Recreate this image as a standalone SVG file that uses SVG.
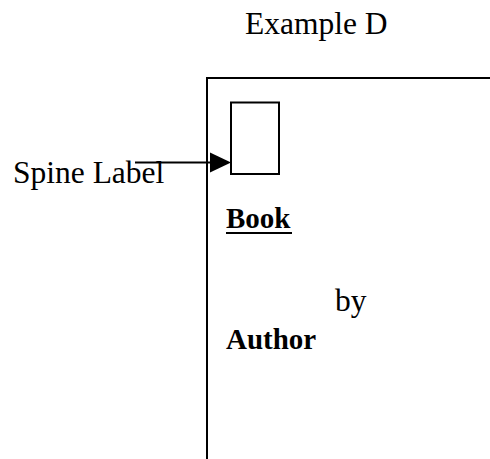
<svg xmlns="http://www.w3.org/2000/svg" width="490" height="459" viewBox="0 0 490 459">
  <style>
    .t { font-family: "Liberation Serif", "Times New Roman", serif; fill: #000; }
    .reg { font-size: 31.5px; }
    .bold { font-size: 29px; font-weight: bold; }
    .ln { stroke: #000; stroke-width: 2; fill: none; }
  </style>
  <defs>
    <marker id="arrow" markerWidth="10" markerHeight="10" refX="10" refY="5" orient="auto" markerUnits="userSpaceOnUse" viewBox="0 0 10 10">
      <path d="M0,0 L10,5 L0,10 Z" fill="#000"/>
    </marker>
  </defs>
  <rect width="490" height="459" fill="#fff"/>
  <text class="t reg" x="245" y="34">Example D</text>
  <!-- book cover outline, open at right and bottom -->
  <g id="cover">
    <path class="ln" d="M490,78 H207 V459"/>
  </g>
  <g id="spine-label-box">
    <rect class="ln" x="231" y="102.5" width="48" height="71.5"/>
  </g>
  <g id="spine-label-text">
    <text class="t reg" x="13" y="183">Spine Label</text>
  </g>
  <g id="connectors">
    <line class="ln" x1="135" y1="162.5" x2="211" y2="162.5"/>
    <path d="M210,152.5 L231,162.5 L210,172.5 Z" fill="#000"/>
  </g>
  <g id="title">
    <text class="t bold" x="226" y="228">Book</text>
    <line x1="226" y1="233" x2="292" y2="233" stroke="#000" stroke-width="2"/>
  </g>
  <g id="by">
    <text class="t reg" x="335" y="311">by</text>
  </g>
  <g id="author">
    <text class="t bold" x="226" y="349">Author</text>
  </g>
</svg>
